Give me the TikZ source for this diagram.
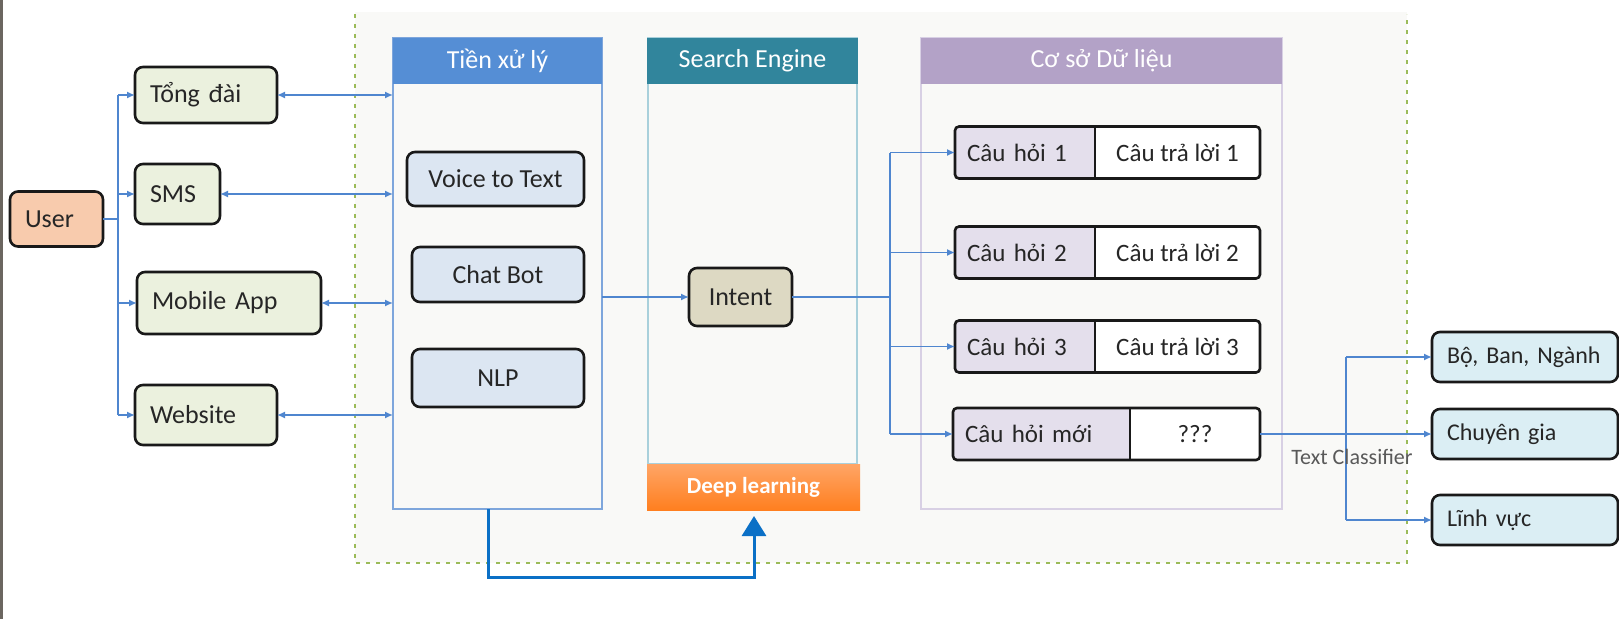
\documentclass[tikz,border=0pt]{standalone}
\usepackage{fontspec}
\setmainfont{Carlito}
\usetikzlibrary{arrows.meta,calc}
\definecolor{conn}{HTML}{4F86CF}
\definecolor{fbblue}{HTML}{0B70C6}
\definecolor{userfill}{HTML}{F8CBAD}
\definecolor{chanfill}{HTML}{EBF1DE}
\definecolor{prefill}{HTML}{DCE6F2}
\definecolor{intentfill}{HTML}{DDD9C3}
\definecolor{prehead}{HTML}{558ED5}
\definecolor{preline}{HTML}{7EA6DC}
\definecolor{sehead}{HTML}{31859C}
\definecolor{seline}{HTML}{A9D0DB}
\definecolor{dbhead}{HTML}{B3A2C7}
\definecolor{dbline}{HTML}{D8D0E4}
\definecolor{qfill}{HTML}{E4DFEC}
\definecolor{outfill}{HTML}{DBEEF4}
\definecolor{bgfill}{HTML}{F9F9F7}
\definecolor{dotgreen}{HTML}{9BBB59}
\definecolor{txt}{HTML}{262626}
\definecolor{dlTop}{HTML}{FFA566}
\definecolor{dlBot}{HTML}{FF7F1F}
\definecolor{edgebar}{HTML}{6B6660}
\definecolor{labgray}{HTML}{595959}
\begin{document}
\begin{tikzpicture}[x=1pt,y=-1pt,
  every node/.style={inner sep=0pt, outer sep=0pt},
  rbox/.style={draw=black!90, line width=2.6pt, rounded corners=8pt, text=txt,
    font=\fontsize{26}{30}\selectfont},
  lbox/.style={rbox, align=left, inner xsep=15pt},
  cbox/.style={rbox, align=center},
  cell/.style={text=txt, font=\fontsize{25}{30}\selectfont},
  qcell/.style={cell, fill=qfill, align=left, inner xsep=12pt},
  acell/.style={cell, fill=white, align=center},
  outbox/.style={rbox, fill=outfill, align=left, inner xsep=15pt,
    font=\fontsize{24}{28}\selectfont},
  panel/.style={line width=1.6pt, fill=bgfill},
  headbox/.style={text=white, font=\fontsize{26}{30}\selectfont},
  rowframe/.style={draw=black!90, line width=2.6pt, rounded corners=4pt},
  cl/.style={draw=conn, line width=1.5pt},
  tipr/.style={-{Latex[length=8pt,width=7pt]}},
  tipb/.style={{Latex[length=8pt,width=7pt]}-{Latex[length=8pt,width=7pt]}},
  fb/.style={draw=fbblue, line width=3pt, -{Triangle[length=20pt,width=24pt]}}
]
\useasboundingbox (0,0) rectangle (1619,619);
\fill[white] (0,0) rectangle (1619,619);
\fill[edgebar] (0,0) rectangle (2.5,619);

% outer dotted region
\fill[bgfill] (355,12) rectangle (1407,563);
\draw[dotgreen, line width=2pt, dash pattern=on 4pt off 6pt]
  (355,14) -- (355,563) -- (1407,563) -- (1407,14);

% panels
\node[panel, draw=preline, minimum width=209pt, minimum height=471pt] (pre) at (497.5,273.5) {};
\node[headbox, fill=prehead, minimum width=209pt, minimum height=46pt] (preh) at (497.5,61) {Tiền xử lý};
\node[panel, draw=seline, line width=2.6pt, minimum width=209pt, minimum height=426pt] (se) at (752.5,251) {};
\node[headbox, fill=sehead, minimum width=211pt, minimum height=46pt] (seh) at (752.5,61) {Search Engine};
\node[text=white, top color=dlTop, bottom color=dlBot, font=\bfseries\fontsize{23}{28}\selectfont,
  minimum width=213pt, minimum height=46pt] (dl) at (753.5,487) {Deep learning};
\node[panel, draw=dbline, minimum width=361pt, minimum height=471pt] (db) at (1101.5,273.5) {};
\node[headbox, fill=dbhead, minimum width=361pt, minimum height=46pt] (dbh) at (1101.5,61) {Cơ sở Dữ liệu};

% user and channels
\node[lbox, fill=userfill, text width=63pt, minimum height=55pt] (user) at (56.5,219) {User};
\node[lbox, fill=chanfill, text width=112pt, minimum height=56pt] (tong) at (206,95) {Tổng đài};
\node[lbox, fill=chanfill, text width=55pt, minimum height=60pt] (sms) at (177.5,194) {SMS};
\node[lbox, fill=chanfill, text width=154pt, minimum height=62pt] (mob) at (229,303) {Mobile App};
\node[lbox, fill=chanfill, text width=112pt, minimum height=60pt] (web) at (206,415) {Website};

% preprocessing boxes
\node[cbox, fill=prefill, minimum width=177pt, minimum height=54pt] (v2t) at (495.5,179) {Voice to Text};
\node[cbox, fill=prefill, minimum width=172pt, minimum height=55pt] (chat) at (498,274.5) {Chat Bot};
\node[cbox, fill=prefill, minimum width=172pt, minimum height=58pt] (nlp) at (498,378) {NLP};

% intent
\node[cbox, fill=intentfill, minimum width=103pt, minimum height=58pt] (intent) at (740.5,297) {Intent};

% database rows
\node[qcell, text width=116pt, minimum height=52pt] (q1) at (1025,152.5) {Câu hỏi 1};
\node[acell, minimum width=165pt, minimum height=52pt] (a1) at (1177.5,152.5) {Câu trả lời 1};
\node[qcell, text width=116pt, minimum height=52pt] (q2) at (1025,252.5) {Câu hỏi 2};
\node[acell, minimum width=165pt, minimum height=52pt] (a2) at (1177.5,252.5) {Câu trả lời 2};
\node[qcell, text width=116pt, minimum height=52pt] (q3) at (1025,346.5) {Câu hỏi 3};
\node[acell, minimum width=165pt, minimum height=52pt] (a3) at (1177.5,346.5) {Câu trả lời 3};
\node[qcell, text width=153pt, minimum height=52pt] (q4) at (1041.5,434) {Câu hỏi mới};
\node[acell, minimum width=130pt, minimum height=52pt] (a4) at (1195,434) {???};
\foreach \r in {1,2,3,4}{
  \draw[rowframe] (q\r.north west) rectangle (a\r.south east);
  \draw[draw=black!90, line width=2.6pt] (q\r.north east) -- (q\r.south east);
}

% output boxes
\node[outbox, text width=156pt, minimum height=50pt] (bo) at (1525,357) {Bộ, Ban, Ngành};
\node[outbox, text width=156pt, minimum height=50pt] (chu) at (1525,434) {Chuyên gia};
\node[outbox, text width=156pt, minimum height=50pt] (lv) at (1525,520) {Lĩnh vực};

% user -> channels
\coordinate (ubx) at (118,0);
\draw[cl] (user.east) -- (user.east -| ubx);
\draw[cl] (ubx |- tong.west) -- (ubx |- web.west);
\foreach \n in {tong,sms,mob,web}
  \draw[cl, tipr] (ubx |- \n.west) -- (\n.west);

% channels <-> preprocessing
\foreach \n in {tong,sms,mob,web}
  \draw[cl, tipb] (\n.east) -- (\n.east -| pre.west);

% preprocessing -> intent
\draw[cl, tipr] (pre.east |- intent.west) -- (intent.west);

% intent -> rows
\coordinate (ibx) at (890,0);
\draw[cl] (intent.east) -- (intent.east -| ibx);
\draw[cl] (ibx |- q1.west) -- (ibx |- q4.west);
\foreach \r in {1,2,3,4}
  \draw[cl, tipr] (ibx |- q\r.west) -- (q\r.west);

% text classifier
\coordinate (cbx) at (1346,0);
\draw[cl, line width=2pt, tipr] (a4.east) -- (chu.west);
\draw[cl] (cbx |- bo.west) -- (cbx |- lv.west);
\draw[cl, tipr] (cbx |- bo.west) -- (bo.west);
\draw[cl, tipr] (cbx |- lv.west) -- (lv.west);
\node[text=labgray, font=\fontsize{22}{26}\selectfont] (tclab) at (1352,457) {Text Classifier};

% feedback to deep learning
\coordinate (fb1) at (488,577);
\coordinate (fb2) at (754,577);
\draw[fb] (pre.south -| fb1) -- (fb1) -- (fb2) -- ($(dl.south -| fb2)+(0,6)$);
\end{tikzpicture}
\end{document}
